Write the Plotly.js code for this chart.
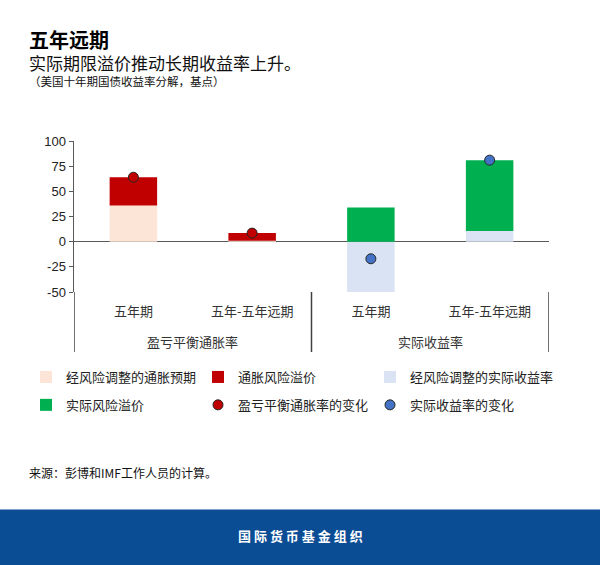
<!DOCTYPE html>
<html>
<head>
<meta charset="utf-8">
<script src="https://cdn.plot.ly/plotly-3.0.1.min.js"></script>
<style>
  body { margin: 0; background: #fff; }
  #chart { width: 600px; height: 565px; }
</style>
</head>
<body>
<div id="chart"></div>
<script>
// categories and their groups
cats = ["五年期", "五年-五年远期", "五年期", "五年-五年远期"];
groupNames = ["盈亏平衡通胀率", "实际收益率"];
xpos = [0, 1, 2, 3];

// basis points
inflExp = [36, 1, null, null];        // 经风险调整的通胀预期
inflPrem = [28, 7.5, null, null];     // 通胀风险溢价
realAdj = [null, null, -50, 10.5];    // 经风险调整的实际收益率
realPrem = [null, null, 34, 70.5];    // 实际风险溢价
beChange = [64, 8.5, null, null];     // 盈亏平衡通胀率的变化
realChange = [null, null, -17, 81];   // 实际收益率的变化

yTicks = [-50, -25, 0, 25, 50, 75, 100];
yTickText = ["-50", "-25", "0", "25", "50", "75", "100"];

FONT = "Liberation Sans, Noto Sans CJK SC, sans-serif";
CJK = "Noto Sans CJK SC, Liberation Sans, sans-serif";

// plot area in pixels
L = 74; R = 549; T = 141; B = 292;
function px(x){ return (x - L) / (R - L); }
function py(y){ return (B - y) / (B - T); }

function bar(name, y, color, legend){
    return {
        type: 'bar', x: xpos, y: y, name: name, width: 0.4,
        marker: {color: color, line: {width: 0}},
        legend: legend, legendgroup: name
    };
}
function dots(name, y, color, legend){
    return {
        type: 'scatter', mode: 'markers', x: xpos, y: y, name: name,
        marker: {color: color, size: 10, line: {color: '#262626', width: 1}},
        legend: legend, legendgroup: name, cliponaxis: false
    };
}

// one legend per column, two rows each
data = [
    bar("经风险调整的通胀预期", inflExp, '#FCE4D6', 'legend'),
    bar("通胀风险溢价", inflPrem, '#C00000', 'legend2'),
    bar("经风险调整的实际收益率", realAdj, '#DAE3F3', 'legend3'),
    bar("实际风险溢价", realPrem, '#00B050', 'legend'),
    dots("盈亏平衡通胀率的变化", beChange, '#C00000', 'legend2'),
    dots("实际收益率的变化", realChange, '#4472C4', 'legend3')
];

function legendAt(x){
    return {
        orientation: 'v', xref: 'container', yref: 'container',
        x: x/600, y: 1 - 362/565, xanchor: 'left', yanchor: 'top',
        tracegroupgap: 8, traceorder: 'grouped',
        font: {family: CJK, size: 13, color: '#222'},
        bgcolor: 'rgba(0,0,0,0)', borderwidth: 0
    };
}

// divider lines under the x axis
dividers = [-0.5, 1.5, 3.5].map(function(v){
    return {type: 'line', xref: 'x', yref: 'paper', x0: v, x1: v,
            y0: py(292), y1: py(352), line: {color: '#404040', width: 1.5}};
});

function note(text, x, y, size, color, anchor){
    return {text: text, x: px(x), y: py(y), xref: 'paper', yref: 'paper',
            xanchor: anchor || 'left', yanchor: 'middle', showarrow: false,
            font: {family: CJK, size: size, color: color}};
}

groupLabels = groupNames.map(function(g, i){
    return {text: g, x: 0.5 + 2*i, y: py(341), xref: 'x', yref: 'paper',
            xanchor: 'center', yanchor: 'middle', showarrow: false,
            font: {family: CJK, size: 13, color: '#333'}};
});

layout = {
    width: 600, height: 565,
    margin: {l: L, r: 600 - R, t: T, b: 565 - B, autoexpand: false},
    paper_bgcolor: '#fff', plot_bgcolor: '#fff',
    font: {family: FONT, size: 13, color: '#222'},
    barmode: 'relative',
    showlegend: true,
    legend: legendAt(26),
    legend2: legendAt(198),
    legend3: legendAt(370),
    xaxis: {
        range: [-0.5, 3.5], tickvals: xpos, ticktext: cats,
        showline: false, ticks: '', showgrid: false, zeroline: false,
        ticklabelstandoff: 10,
        tickfont: {family: CJK, size: 13, color: '#333'}
    },
    yaxis: {
        range: [-50, 100], tickvals: yTicks, ticktext: yTickText, showgrid: false,
        showline: true, linecolor: '#595959', linewidth: 1.5,
        ticks: 'outside', ticklen: 4, tickcolor: '#595959',
        zeroline: true, zerolinecolor: '#595959', zerolinewidth: 1.5,
        tickfont: {family: FONT, size: 13, color: '#222'}
    },
    shapes: [
        {type: 'rect', xref: 'paper', yref: 'paper', x0: px(0), x1: px(600),
         y0: py(509.5), y1: py(565), fillcolor: '#0B4D94', line: {width: 0}, layer: 'below'}
    ].concat(dividers),
    annotations: [
        note('<b>五年远期</b>', 27, 39, 20, '#000'),
        note('实际期限溢价推动长期收益率上升。', 27, 62, 17, '#111'),
        note('（美国十年期国债收益率分解，基点）', 27, 81, 11.5, '#111'),
        note('来源：彭博和IMF工作人员的计算。', 27, 472, 12, '#111'),
        note('<b>国 际 货 币 基 金 组 织</b>', 300, 535, 13, '#fff', 'center')
    ].concat(groupLabels)
};

Plotly.newPlot('chart', data, layout, {staticPlot: true, displayModeBar: false});
</script>
</body>
</html>
